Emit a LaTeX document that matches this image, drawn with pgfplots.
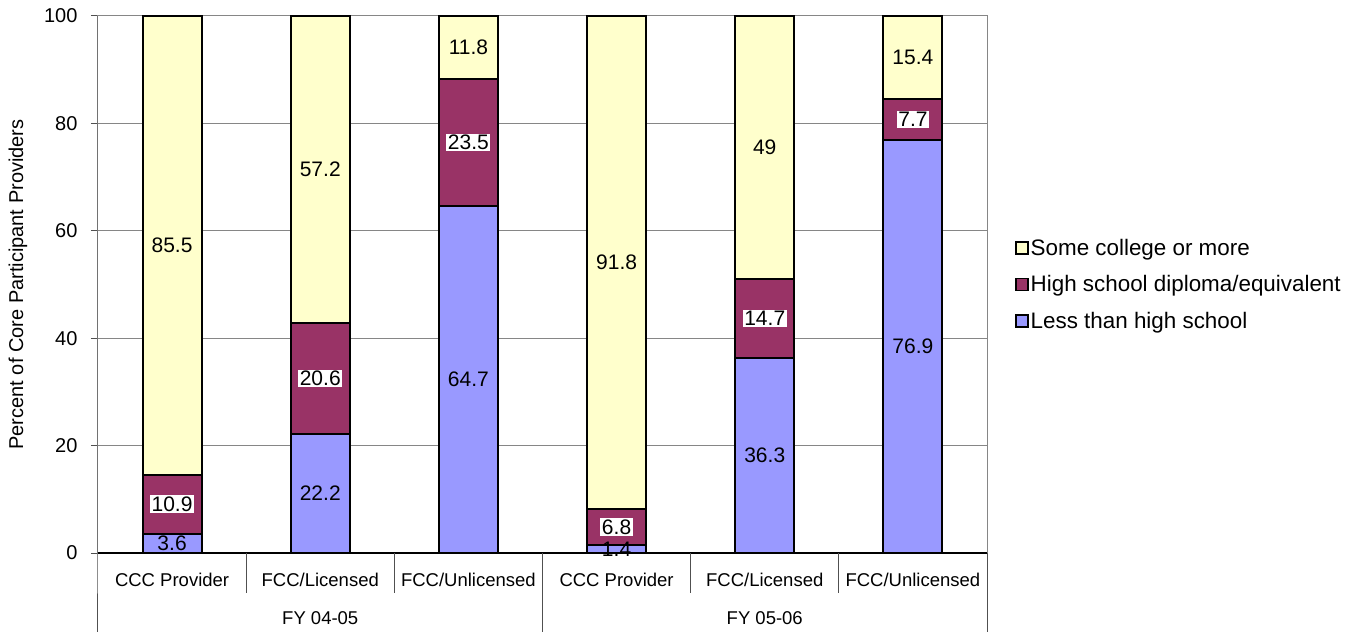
\documentclass[border=0pt]{standalone}
\usepackage{fontspec}
\setmainfont{Liberation Sans}
\usepackage{pgfplots}
\pgfplotsset{compat=1.18}
\usepackage{pgfplotstable}

\definecolor{college}{HTML}{FFFFCC}
\definecolor{highschool}{HTML}{993366}
\definecolor{lesshs}{HTML}{9999FF}
\definecolor{gridgray}{HTML}{868686}
\definecolor{sepgray}{HTML}{505050}

% Education level of core participant providers (percent)
% x: 0-2 = FY 04-05, 3-5 = FY 05-06
\pgfplotstableread{
x less  hs    college
0 3.6   10.9  85.5
1 22.2  20.6  57.2
2 64.7  23.5  11.8
3 1.4   6.8   91.8
4 36.3  14.7  49
5 76.9  7.7   15.4
}\edudata

\pgfplotsset{
  segment/.style={fill=#1, draw=black, line width=2pt,
    legend image code/.code={\draw[fill=#1, draw=black, line width=1.5pt] (0pt,-6pt) rectangle (12pt,6pt);}},
  % value label in the middle of its segment
  centered labels/.style={
    nodes near coords,
    every node near coord/.append style={
      anchor=center, text=black, draw=none, font=\fontsize{21}{25}\selectfont, inner sep=1.5pt,
    },
  },
}

\begin{document}
\begin{tikzpicture}
\useasboundingbox (-98pt,-82pt) rectangle (1270pt,553pt);
\begin{axis}[
  at={(0pt,0pt)}, anchor=south west,
  scale only axis, width=889pt, height=537pt,
  ybar stacked, bar width=59pt,
  xmin=-0.5, xmax=5.5, ymin=0, ymax=100,
  clip=false,
  xtick={0,...,5},
  xticklabels={CCC Provider, FCC/Licensed, FCC/Unlicensed, CCC Provider, FCC/Licensed, FCC/Unlicensed},
  xtick style={draw=none},
  xticklabel style={anchor=center, yshift=-20pt, font=\fontsize{18.5}{22}\selectfont},
  ytick={0,20,...,100},
  ytick pos=left, xtick pos=bottom,
  tick align=outside, major tick length=7pt,
  ytick style={draw=sepgray, line width=1pt},
  yticklabel style={font=\fontsize{20}{24}\selectfont, xshift=-10pt},
  /pgf/number format/assume math mode=true,
  ymajorgrids, major grid style={draw=gridgray, line width=1pt},
  axis line style={draw=gridgray, line width=1pt},
  every axis y label/.style={at={(axis description cs:0,0.5)}, xshift=-80pt, rotate=90, anchor=center},
  ylabel={Percent of Core Participant Providers},
  ylabel style={font=\fontsize{20}{24}\selectfont},
  legend style={at={(axis description cs:1,0.5)}, anchor=west, xshift=28pt,
    draw=none, fill=none, font=\fontsize{22.4}{26}\selectfont, inner sep=0pt,
    row sep=15pt, /tikz/every even column/.append style={column sep=6pt}},
  legend cell align=left, reverse legend,
]
\addplot[segment=lesshs, centered labels] table[x=x, y=less] {\edudata};
\addplot[segment=highschool, centered labels,
  every node near coord/.append style={fill=white}] table[x=x, y=hs] {\edudata};
\addplot[segment=college, centered labels] table[x=x, y=college] {\edudata};
\legend{Less than high school, High school diploma/equivalent, Some college or more}

% category axis: left and bottom lines, separators between bars and groups
\draw[sepgray, line width=1pt] (axis cs:-0.5,100) -- (axis cs:-0.5,0) -- ++(0pt,-79pt);
\draw[sepgray, line width=1pt] (axis cs:2.5,0) -- ++(0pt,-79pt);
\draw[sepgray, line width=1pt] (axis cs:5.5,0) -- ++(0pt,-79pt);
\draw[sepgray, line width=1pt] (axis cs:0.5,0) -- ++(0pt,-40pt);
\draw[sepgray, line width=1pt] (axis cs:1.5,0) -- ++(0pt,-40pt);
\draw[sepgray, line width=1pt] (axis cs:3.5,0) -- ++(0pt,-40pt);
\draw[sepgray, line width=1pt] (axis cs:4.5,0) -- ++(0pt,-40pt);
\draw[black, line width=1.2pt] (axis cs:-0.5,0) -- (axis cs:5.5,0);
\node[font=\fontsize{18.5}{22}\selectfont] at (axis cs:1,0) [yshift=-65pt] {FY 04-05};
\node[font=\fontsize{18.5}{22}\selectfont] at (axis cs:4,0) [yshift=-65pt] {FY 05-06};
\end{axis}
\end{tikzpicture}
\end{document}
